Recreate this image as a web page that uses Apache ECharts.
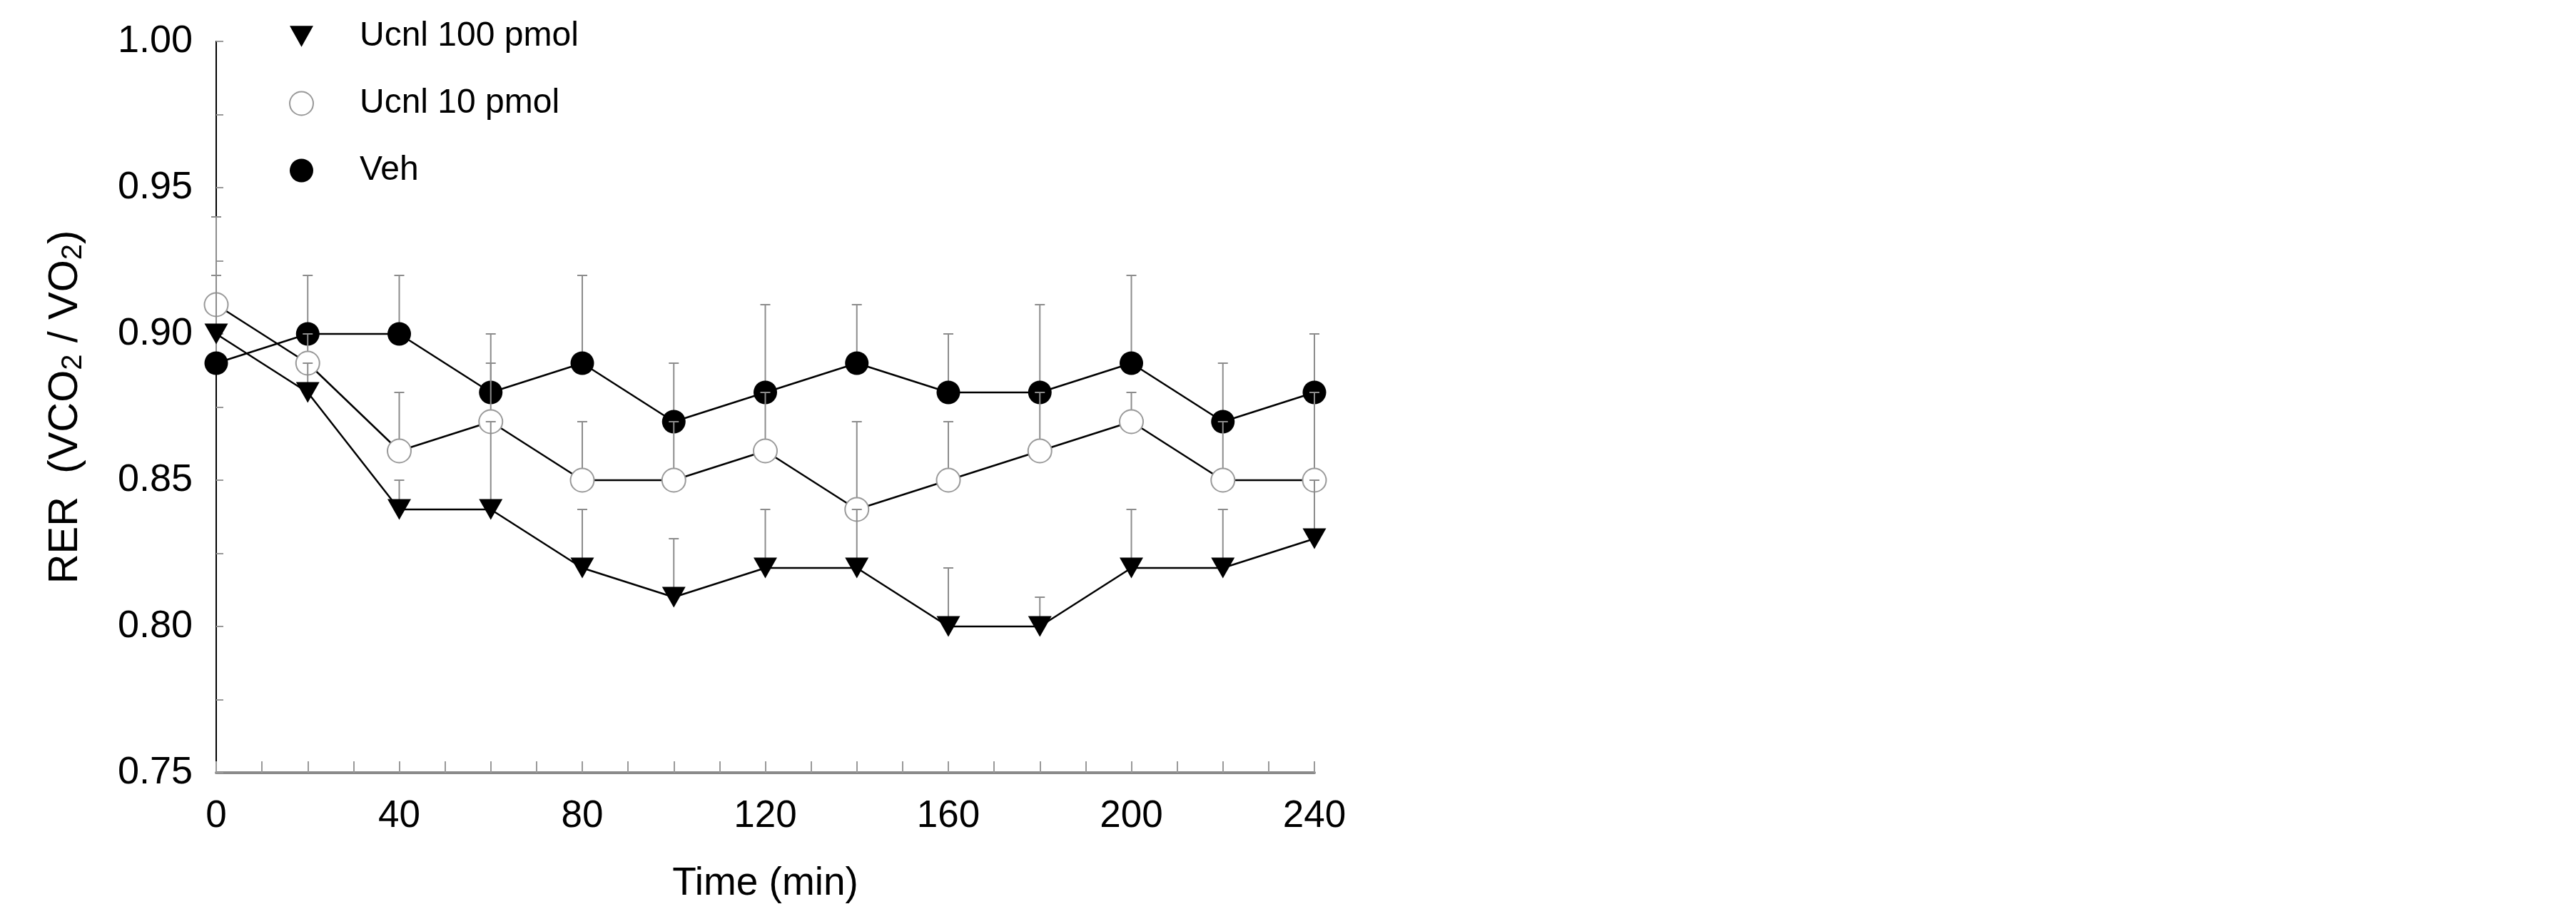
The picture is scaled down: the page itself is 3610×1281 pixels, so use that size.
<!DOCTYPE html>
<html>
<head>
<meta charset="utf-8">
<script src="https://cdn.jsdelivr.net/npm/echarts@6/dist/echarts.min.js"></script>
<style>
    html, body { margin: 0; padding: 0; background: #fff; }
    #chart { width: 3610px; height: 1281px; }
</style>
</head>
<body>
<div id="chart"></div>
<script>
// time points (min)
const times = [0, 20, 40, 60, 80, 100, 120, 140, 160, 180, 200, 220, 240];
const seriesNames = ['Ucnl 100 pmol', 'Ucnl 10 pmol', 'Veh'];

// mean RER values
const ucnl100 = [0.90, 0.88, 0.84, 0.84, 0.82, 0.81, 0.82, 0.82, 0.80, 0.80, 0.82, 0.82, 0.83];
const ucnl10 = [0.91, 0.89, 0.86, 0.87, 0.85, 0.85, 0.86, 0.84, 0.85, 0.86, 0.87, 0.85, 0.85];
const veh = [0.89, 0.90, 0.90, 0.88, 0.89, 0.87, 0.88, 0.89, 0.88, 0.88, 0.89, 0.87, 0.88];

// upper end of error bars (mean + SEM)
const ucnl100Upper = [0.94, 0.89, 0.85, 0.87, 0.84, 0.83, 0.84, 0.84, 0.82, 0.81, 0.84, 0.84, 0.85];
const ucnl10Upper = [0.92, 0.90, 0.88, 0.89, 0.87, 0.87, 0.88, 0.87, 0.87, 0.88, 0.88, 0.87, 0.88];
const vehUpper = [0.90, 0.92, 0.92, 0.90, 0.92, 0.89, 0.91, 0.91, 0.90, 0.91, 0.92, 0.89, 0.90];

const FONT = 'Liberation Sans, Arial, Helvetica, sans-serif';
const DOWN_TRI = 'path://M0,0 L10,0 L5,9 Z';

const chart = echarts.init(document.getElementById('chart'));

function pairs(values) {
    return times.map((t, i) => [t, values[i]]);
}

// vertical error bar (upper half only) with a short cap
function errorSeries(name, means, uppers, z) {
    return {
        name: name,
        type: 'custom',
        z: z,
        silent: true,
        data: times.map((t, i) => [t, means[i], uppers[i]]),
        renderItem: function (params, api) {
            const p0 = api.coord([api.value(0), api.value(1)]);
            const p1 = api.coord([api.value(0), api.value(2)]);
            const style = { stroke: '#8c8c8c', lineWidth: 2 };
            return {
                type: 'group',
                children: [
                    { type: 'line', shape: { x1: p0[0], y1: p0[1], x2: p1[0], y2: p1[1] }, style: style },
                    { type: 'line', shape: { x1: p1[0] - 7, y1: p1[1], x2: p1[0] + 7, y2: p1[1] }, style: style }
                ]
            };
        }
    };
}

function lineSeries(name, values, symbol, size, itemStyle, z) {
    return {
        name: name,
        type: 'line',
        z: z,
        data: pairs(values),
        symbol: symbol,
        symbolSize: size,
        showAllSymbol: true,
        lineStyle: { color: '#000', width: 2.5 },
        itemStyle: itemStyle,
        emphasis: { disabled: true }
    };
}

const option = {
    backgroundColor: '#fff',
    animation: false,
    grid: { left: 303, top: 58, width: 1539, height: 1025 },
    legend: {
        orient: 'vertical',
        left: 400,
        top: 22,
        itemWidth: 33,
        itemHeight: 33,
        itemGap: 46,
        selectedMode: false,
        textStyle: { fontFamily: FONT, fontSize: 48, color: '#000', lineHeight: 40, padding: [0, 0, 0, 60] },
        data: [
            { name: seriesNames[0], icon: DOWN_TRI, itemStyle: { color: '#000', borderWidth: 0 } },
            { name: seriesNames[1], icon: 'circle', itemStyle: { color: '#fff', borderColor: '#999', borderWidth: 2 } },
            { name: seriesNames[2], icon: 'circle', itemStyle: { color: '#000', borderWidth: 0 } }
        ]
    },
    xAxis: {
        type: 'value',
        min: 0,
        max: 240,
        interval: 40,
        name: 'Time (min)',
        nameLocation: 'middle',
        nameGap: 128,
        nameTextStyle: { fontFamily: FONT, fontSize: 55, color: '#000' },
        axisLine: { lineStyle: { color: '#8a8a8a', width: 4 } },
        axisTick: { inside: true, length: 16, lineStyle: { color: '#999', width: 2 } },
        minorTick: { show: true, splitNumber: 4, length: 16, lineStyle: { color: '#999', width: 2 } },
        axisLabel: { fontFamily: FONT, fontSize: 53, color: '#000', margin: 35 },
        splitLine: { show: false }
    },
    yAxis: {
        type: 'value',
        min: 0.75,
        max: 1.00,
        interval: 0.05,
        name: '{t|RER  (VCO}{s|2}{t| / VO}{s|2}{t|)}',
        nameLocation: 'middle',
        nameGap: 180,
        nameTextStyle: {
            rich: {
                t: { fontFamily: FONT, fontSize: 58, color: '#000', lineHeight: 60, verticalAlign: 'top' },
                s: { fontFamily: FONT, fontSize: 40, color: '#000', lineHeight: 40, verticalAlign: 'bottom', padding: [32, 0, 0, 0] }
            }
        },
        axisLine: { show: true, lineStyle: { color: '#000', width: 2 } },
        axisTick: { inside: true, length: 10, lineStyle: { color: '#999', width: 2 } },
        minorTick: { show: true, splitNumber: 2, length: 10, lineStyle: { color: '#999', width: 2 } },
        axisLabel: {
            fontFamily: FONT, fontSize: 54, color: '#000', margin: 33,
            formatter: function (v) { return v.toFixed(2); }
        },
        splitLine: { show: false }
    },
    series: [
        errorSeries('Veh err', veh, vehUpper, 2),
        lineSeries(seriesNames[2], veh, 'circle', 33, { color: '#000', borderWidth: 0 }, 3),
        errorSeries('Ucnl 10 err', ucnl10, ucnl10Upper, 4),
        lineSeries(seriesNames[1], ucnl10, 'circle', 33, { color: '#fff', borderColor: '#999', borderWidth: 2 }, 5),
        errorSeries('Ucnl 100 err', ucnl100, ucnl100Upper, 6),
        lineSeries(seriesNames[0], ucnl100, DOWN_TRI, [33, 29], { color: '#000', borderWidth: 0 }, 7)
    ]
};

chart.setOption(option);
</script>
</body>
</html>
